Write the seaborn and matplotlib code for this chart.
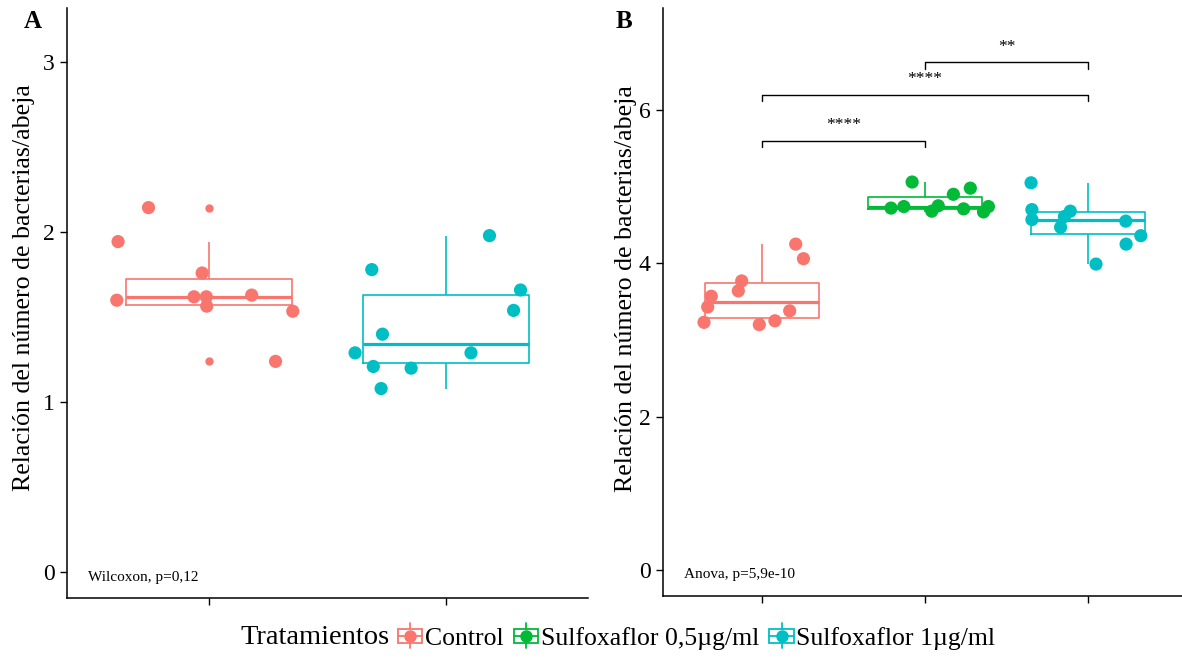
import numpy as np
import pandas as pd
import matplotlib
matplotlib.use("Agg")
import matplotlib.pyplot as plt
import seaborn as sns
from matplotlib.patches import Rectangle
from matplotlib.lines import Line2D
from matplotlib.legend_handler import HandlerBase

# ---------------- data ----------------
groups = ["Control", "Sulfoxaflor 0,5µg/ml", "Sulfoxaflor 1µg/ml"]
colors = ["#F8766D", "#00BA38", "#00BFC4"]

a_control = [2.145, 1.945, 1.76, 1.63, 1.62, 1.62, 1.60, 1.565, 1.535, 1.24]
a_sulfo1 = [1.98, 1.78, 1.66, 1.54, 1.40, 1.29, 1.29, 1.21, 1.20, 1.08]

b_control = [4.25, 4.06, 3.77, 3.64, 3.57, 3.43, 3.38, 3.25, 3.23, 3.20]
b_sulfo05 = [5.06, 4.98, 4.90, 4.75, 4.68, 4.67, 4.74, 4.74, 4.72, 4.71]
b_sulfo1 = [5.05, 4.68, 4.70, 4.61, 4.57, 4.47, 4.55, 4.36, 4.25, 3.99]

a_ticks = [0, 1, 2, 3]
b_ticks = [0, 2, 4, 6]
a_test = "Wilcoxon, p=0,12"
b_test = "Anova, p=5,9e-10"
# comparisons: (group i, group j, label, bracket height)
comparisons = [(0, 1, "****", 5.6), (0, 2, "****", 6.2), (1, 2, "**", 6.62)]
ylabel = "Relación del número de bacterias/abeja"
legend_title = "Tratamientos"

df_a = pd.DataFrame({
    "grupo": [groups[0]] * len(a_control) + [groups[2]] * len(a_sulfo1),
    "valor": a_control + a_sulfo1,
})
df_b = pd.DataFrame({
    "grupo": [groups[0]] * len(b_control) + [groups[1]] * len(b_sulfo05) + [groups[2]] * len(b_sulfo1),
    "valor": b_control + b_sulfo05 + b_sulfo1,
})

# ---------------- style ----------------
sns.set_style("white")
plt.rcParams["font.family"] = ["Liberation Serif", "DejaVu Serif"]
for k in ["text.color", "axes.labelcolor", "xtick.color", "ytick.color"]:
    plt.rcParams[k] = "black"

W, H = 1182, 658
fig = plt.figure(figsize=(W / 100, H / 100), dpi=100)


def px_axes(l, t, r, b):
    return fig.add_axes([l / W, 1 - b / H, (r - l) / W, (b - t) / H])


axA = px_axes(67, 8, 588, 598)
axB = px_axes(663, 8, 1182, 596)

np.random.seed(11)


def draw(ax, df, order, pal):
    sns.boxplot(data=df, x="grupo", y="valor", hue="grupo", order=order, hue_order=order,
                palette=pal, fill=False, width=0.7, linewidth=1.2, showcaps=False,
                fliersize=5, medianprops=dict(linewidth=2.3), legend=False, ax=ax)
    for ln in ax.lines:
        if ln.get_marker() not in (None, "None", "", " "):
            ln.set_markerfacecolor(ln.get_markeredgecolor())
    sns.stripplot(data=df, x="grupo", y="valor", hue="grupo", order=order, hue_order=order,
                  palette=pal, jitter=0.4, size=9.5, linewidth=0, legend=False, ax=ax, zorder=3)
    ax.set_xlabel("")
    ax.set_ylabel(ylabel, fontsize=18.6)
    ax.tick_params(axis="x", labelbottom=False, bottom=True, length=5, width=1, color="black")
    ax.tick_params(axis="y", left=True, length=5, width=1, color="black", labelsize=17, pad=4)
    sns.despine(ax=ax)
    for s in ["left", "bottom"]:
        ax.spines[s].set_color("black")
        ax.spines[s].set_linewidth(1.1)


orderA = [groups[0], groups[2]]
draw(axA, df_a, orderA, {groups[0]: colors[0], groups[2]: colors[2]})
axA.set_xlim(-0.6, 1.6)
axA.set_ylim(-0.153, 3.32)
axA.set_yticks(a_ticks)
axA.yaxis.set_label_coords(-0.062, 0.527)
axA.text(-0.51, -0.03, a_test, fontsize=11, ha="left", va="center")

draw(axB, df_b, groups, dict(zip(groups, colors)))
axB.set_xlim(-0.607, 2.577)
axB.set_ylim(-0.34, 7.33)
axB.set_yticks(b_ticks)
axB.yaxis.set_label_coords(-0.05, 0.523)
axB.text(-0.48, -0.065, b_test, fontsize=11, ha="left", va="center")

for i, j, lab, h in comparisons:
    axB.plot([i, i, j, j], [h - 0.08, h, h, h - 0.08], color="black", lw=1.0)
    axB.text((i + j) / 2, h + 0.2, lab, fontsize=12.5, ha="center", va="center")

fig.text(33 / W, 1 - 22 / H, "A", fontsize=18, fontweight="bold", ha="center", va="center")
fig.text(624 / W, 1 - 22 / H, "B", fontsize=18, fontweight="bold", ha="center", va="center")


# ---------------- legend ----------------
class BoxKey(HandlerBase):
    def create_artists(self, legend, orig, xd, yd, w, h, fs, trans):
        c = orig.get_color()
        x0, y0 = -xd, -yd
        cx, cy = x0 + w / 2, y0 + h / 2
        bh = h * 0.6
        rect = Rectangle((x0, cy - bh / 2), w, bh, fill=False, ec=c, lw=1.3, transform=trans)
        l1 = Line2D([cx, cx], [cy + bh / 2, y0 + h * 1.05], color=c, lw=1.3, transform=trans)
        l2 = Line2D([cx, cx], [y0 - h * 0.05, cy - bh / 2], color=c, lw=1.3, transform=trans)
        med = Line2D([x0, x0 + w], [cy, cy], color=c, lw=1.3, transform=trans)
        m = Line2D([cx], [cy], marker="o", ms=8, color=c, ls="none", transform=trans)
        return [rect, l1, l2, med, m]


handles = [Line2D([], [], color=c) for c in colors]
fig.text(240 / W, 1 - 637 / H, legend_title, fontsize=20.5, ha="left", va="center")
fig.legend(handles, groups, loc="center left", bbox_to_anchor=(398 / W, 1 - 637 / H),
           ncol=3, frameon=False, fontsize=18.5, handlelength=0.95, handleheight=1.0,
           handletextpad=0.1, columnspacing=0.4, borderpad=0, borderaxespad=0,
           handler_map={Line2D: BoxKey()})

fig.savefig("out.png", dpi=100)
